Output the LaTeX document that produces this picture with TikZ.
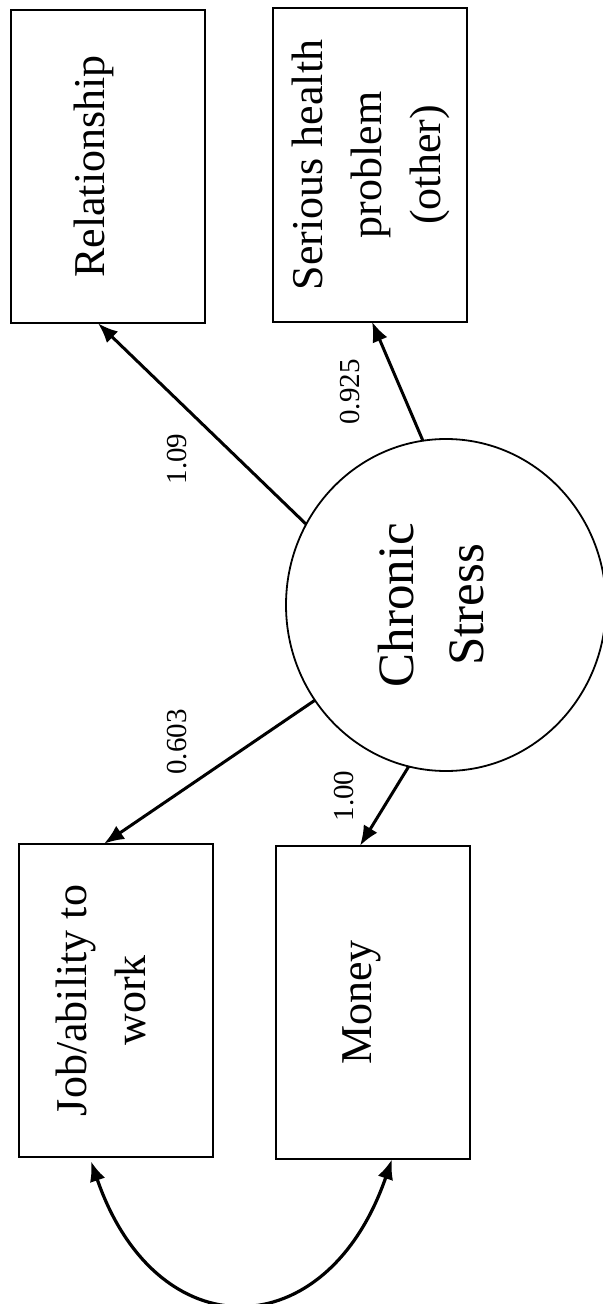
\documentclass[tikz,border=0pt]{standalone}
\usepackage{fontspec}
\setmainfont{Liberation Serif}
\usepackage{graphicx}
\usetikzlibrary{arrows.meta, positioning, shapes.geometric}

% rotated (bottom-to-top) text, lifted a little inside its shape
\newcommand{\vtext}[2]{\rotatebox{90}{\raisebox{#1}[\height][\depth]{\begin{tabular}{@{}c@{}}#2\end{tabular}}}}

\tikzset{
  indicator/.style={draw, line width=1pt, minimum width=97pt, minimum height=156.75pt,
    inner sep=0pt, outer sep=0pt, font=\fontsize{22}{29.5}\selectfont},
  latent/.style={draw, ellipse, line width=0.9pt, minimum width=160pt, minimum height=166pt,
    inner sep=0pt, outer sep=0pt, font=\fontsize{25.5}{35}\selectfont},
  coef/.style={rotate=90, inner sep=0pt, font=\fontsize{14.5}{17}\selectfont},
  effect/.style={-{Latex[length=10pt, width=8pt]}, line width=1.5pt},
  covar/.style={{Latex[length=10pt, width=8pt]}-{Latex[length=10pt, width=8pt]}, line width=1.6pt}
}

\begin{document}
\begin{tikzpicture}[x=0.5pt, y=0.5pt]
\useasboundingbox (0,0) rectangle (602,-1304);

% --- Latent factor ---
\node[latent] (stress) at (446,-605) {\vtext{6pt}{Chronic\\Stress}};

% --- Indicators ---
\node[indicator] (rel) at (108,-166.5) {\vtext{7.5pt}{Relationship}};
\node[indicator] (health) at (370,-165) {\vtext{0pt}{Serious health\\problem\\(other)}};
\node[indicator] (job) at (116,-1000.5) {\vtext{6pt}{Job/ability to\\work}};
\node[indicator] (money) at (372.5,-1002.5) {\vtext{6.5pt}{Money}};

% --- Loadings ---
\draw[effect] (stress.150) -- ([xshift=-5pt]rel.south);
\draw[effect] (stress.98) -- ([xshift=1pt]health.south);
\draw[effect] (stress.216) -- ([xshift=-6pt]job.north);
\draw[effect] (stress.257.5) -- ([xshift=-6.25pt]money.north);

\node[coef] (c-rel) at (177,-459) {1.09};
\node[coef] (c-health) at (350,-392) {0.925};
\node[coef] (c-job) at (177,-742) {0.603};
\node[coef] (c-money) at (344,-796) {1.00};

% --- Residual covariance ---
\draw[covar] ([xshift=-12.5pt, yshift=-2pt]job.south) to[out=-71, in=-109, looseness=1.7] ([xshift=9.75pt]money.south);

\end{tikzpicture}
\end{document}
